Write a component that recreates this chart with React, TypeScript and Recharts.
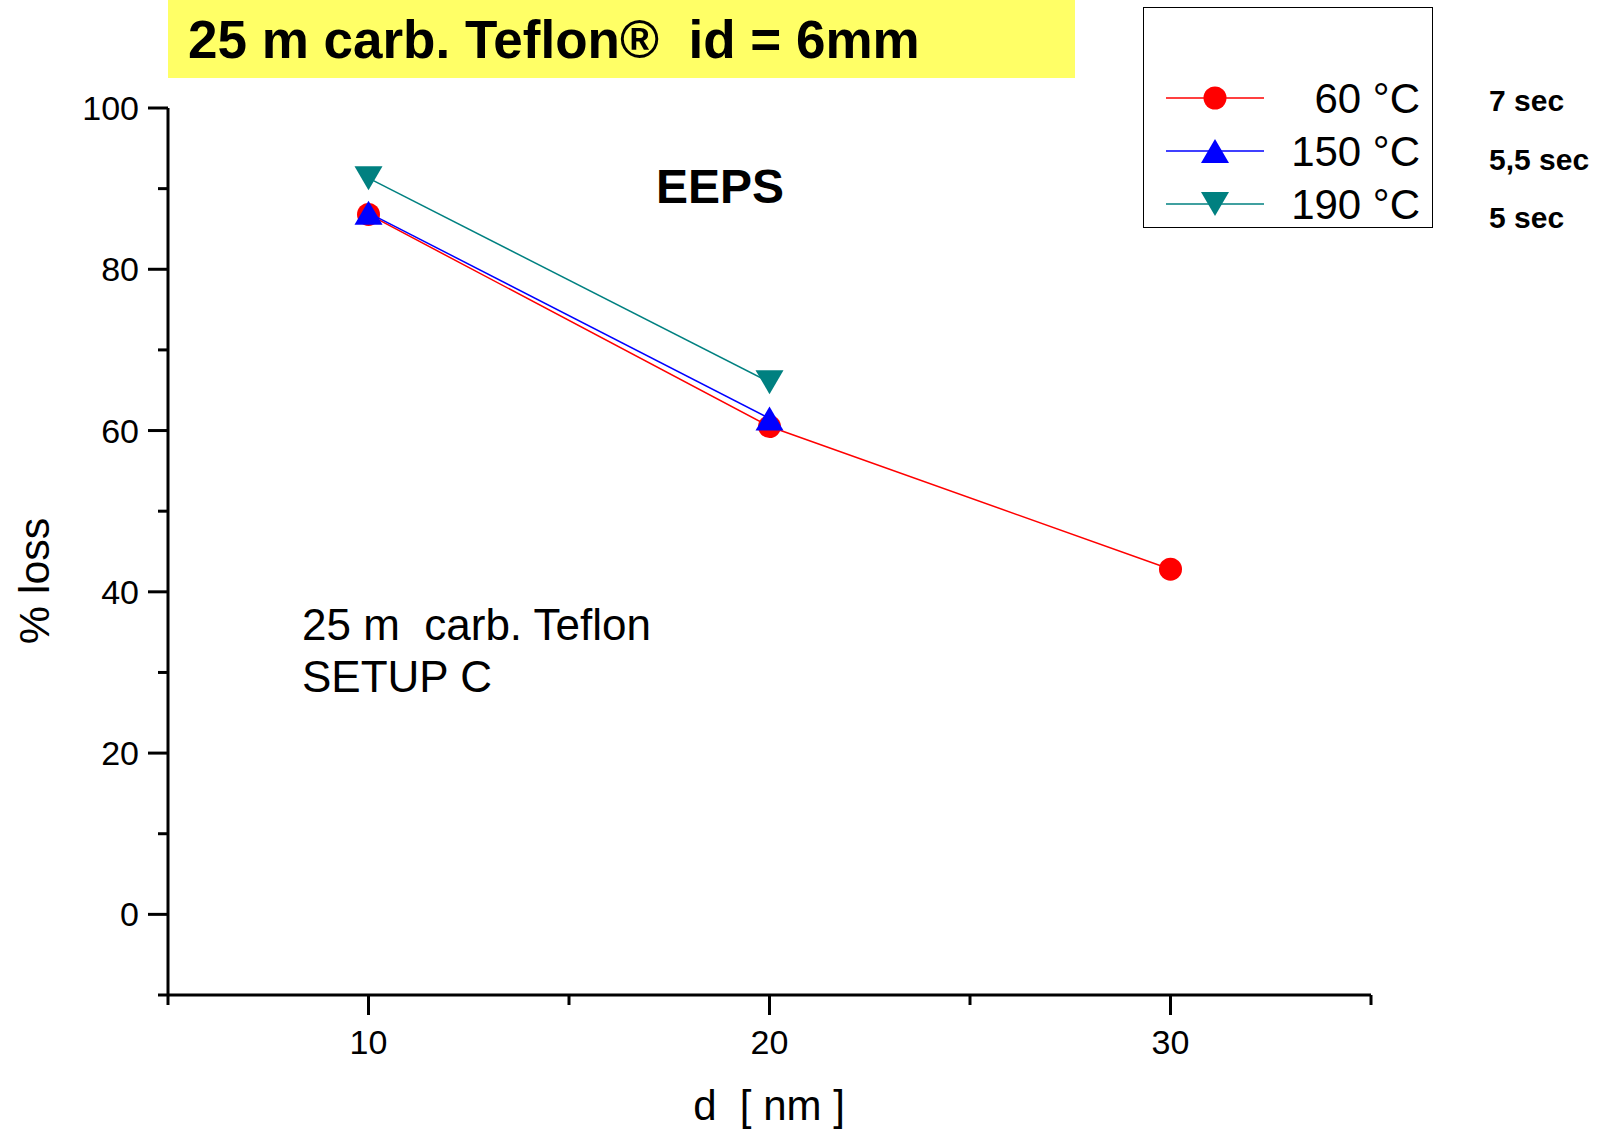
import React from 'react'
import { ScatterChart, Scatter, XAxis, YAxis, Legend } from 'recharts'

// particle diameter d [nm]
const sizes = [10, 20, 30]
// % loss per temperature
const loss60 = [86.8, 60.5, 42.8]
const loss150 = [87, 61.5]
const loss190 = [91.3, 66]
const seriesNames = ['60 °C', '150 °C', '190 °C']
const residenceTimes = ['7 sec', '5,5 sec', '5 sec']
const xTicks = [5, 10, 15, 20, 25, 30, 35]
const yTicks = [-10, 0, 10, 20, 30, 40, 50, 60, 70, 80, 90, 100]

const FONT = '"Liberation Sans", Arial, Helvetica, sans-serif'

const toPoints = (values: number[]) => values.map((v, i) => ({ d: sizes[i], loss: v }))

const series = [
  { name: seriesNames[0], data: toPoints(loss60), color: '#ff0000', marker: 'circle' },
  { name: seriesNames[1], data: toPoints(loss150), color: '#0000ff', marker: 'up' },
  { name: seriesNames[2], data: toPoints(loss190), color: '#008080', marker: 'down' },
]

function Marker({ kind, cx, cy, color }: { kind: string; cx: number; cy: number; color: string }) {
  if (kind === 'circle') return <circle cx={cx} cy={cy} r={11.5} fill={color} />
  if (kind === 'up')
    return <polygon points={`${cx - 14},${cy + 12} ${cx + 14},${cy + 12} ${cx},${cy - 12}`} fill={color} />
  return <polygon points={`${cx - 14},${cy - 12} ${cx + 14},${cy - 12} ${cx},${cy + 12}`} fill={color} />
}

const XTick = (props: any) => {
  const { x, y, payload } = props
  const major = payload.value % 10 === 0
  return (
    <g>
      <line x1={x} x2={x} y1={y} y2={y + (major ? 20 : 10)} stroke="#000" strokeWidth={3} />
      {major && (
        <text x={x} y={y + 59} textAnchor="middle" fontSize={34} fontFamily={FONT} fill="#000">
          {payload.value}
        </text>
      )}
    </g>
  )
}

const YTick = (props: any) => {
  const { x, y, payload } = props
  const major = payload.value % 20 === 0
  return (
    <g>
      <line x1={x - (major ? 20 : 10)} x2={x} y1={y} y2={y} stroke="#000" strokeWidth={3} />
      {major && (
        <text x={x - 29} y={y + 12} textAnchor="end" fontSize={34} fontFamily={FONT} fill="#000">
          {payload.value}
        </text>
      )}
    </g>
  )
}

const LegendBox = () => (
  <svg width={287} height={218} style={{ display: 'block', overflow: 'visible' }}>
    {series.map((s, i) => {
      const cy = 90 + i * 53
      return (
        <g key={s.name}>
          <line x1={22} x2={120} y1={cy} y2={cy} stroke={s.color} strokeWidth={1.5} />
          <Marker kind={s.marker} cx={71} cy={cy} color={s.color} />
          <text x={276} y={cy + 15} textAnchor="end" fontSize={42} fontFamily={FONT} fill="#000">
            {s.name}
          </text>
        </g>
      )
    })}
  </svg>
)

export default function App() {
  return (
    <div style={{ position: 'absolute', left: 0, top: 0, width: 1613, height: 1133, background: '#fff' }}>
      <ScatterChart width={1613} height={1133} margin={{ top: 108, right: 242, left: 0, bottom: 0 }}>
        <XAxis
          type="number"
          dataKey="d"
          domain={[5, 35]}
          ticks={xTicks}
          interval={0}
          height={138}
          tickSize={0}
          tickMargin={0}
          tickLine={false}
          tick={<XTick />}
          axisLine={{ stroke: '#000', strokeWidth: 3 }}
        />
        <YAxis
          type="number"
          dataKey="loss"
          domain={[-10, 100]}
          ticks={yTicks}
          interval={0}
          width={168}
          tickSize={0}
          tickMargin={0}
          tickLine={false}
          tick={<YTick />}
          axisLine={{ stroke: '#000', strokeWidth: 3 }}
        />
        {series.map((s) => (
          <Scatter
            key={s.name}
            name={s.name}
            data={s.data}
            fill={s.color}
            line={{ stroke: s.color, strokeWidth: 1.5 }}
            lineType="joint"
            isAnimationActive={false}
            shape={(p: any) => <Marker kind={s.marker} cx={p.cx} cy={p.cy} color={s.color} />}
          />
        ))}
        <Legend
          layout="vertical"
          align="center"
          verticalAlign="middle"
          content={() => <LegendBox />}
          wrapperStyle={{
            position: 'absolute',
            left: 1143,
            top: 7,
            width: 290,
            height: 221,
            border: '1.5px solid #000',
            boxSizing: 'border-box',
            background: '#fff',
          }}
        />
      </ScatterChart>
      <svg
        width={1613}
        height={1133}
        style={{ position: 'absolute', left: 0, top: 0, pointerEvents: 'none' }}
        fontFamily={FONT}
      >
        <rect x={168} y={0} width={907} height={78} fill="#ffff66" />
        <text x={188} y={58} fontSize={53} fontWeight="bold" style={{ whiteSpace: 'pre' }}>
          {'25 m carb. Teflon®  id = 6mm'}
        </text>
        <text x={656} y={203} fontSize={48} fontWeight="bold">
          EEPS
        </text>
        <text x={302} y={640} fontSize={44} style={{ whiteSpace: 'pre' }}>
          {'25 m  carb. Teflon'}
        </text>
        <text x={302} y={692} fontSize={44}>
          SETUP C
        </text>
        {residenceTimes.map((t, i) => (
          <text key={t} x={1489} y={[111, 170, 228][i]} fontSize={30} fontWeight="bold">
            {t}
          </text>
        ))}
        <text
          x={49}
          y={581}
          fontSize={43}
          textAnchor="middle"
          transform="rotate(-90 49 581)"
        >
          % loss
        </text>
        <text x={769} y={1120} fontSize={42} textAnchor="middle" style={{ whiteSpace: 'pre' }}>
          {'d  [ nm ]'}
        </text>
      </svg>
    </div>
  )
}
